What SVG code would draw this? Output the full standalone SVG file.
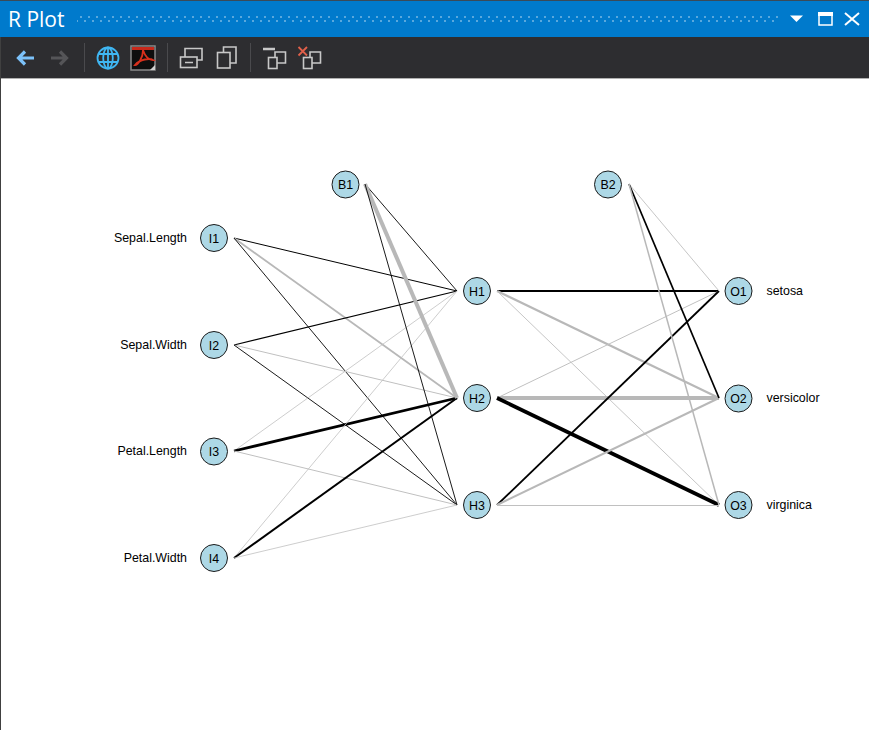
<svg xmlns="http://www.w3.org/2000/svg" width="869" height="730" viewBox="0 0 869 730">
<defs>
<style>
.blk{stroke:#000;fill:none}
.gry{stroke:#b8b8b8;fill:none}
.lgt{stroke:#c0c0c0;fill:none}
.node{fill:#add8e6;stroke:#1a1a1a;stroke-width:1}
.t{font-family:"Liberation Sans",Arial,sans-serif;font-size:12.400px;fill:#000}
.m{text-anchor:middle}
.e{text-anchor:end}
.ic{fill:none;stroke:#c8c8c8;stroke-width:1.600}
</style>
<pattern id="dots" width="8" height="8" patternUnits="userSpaceOnUse"><rect x="0" y="0" width="2" height="2" fill="#59a8dd"/><rect x="4" y="4" width="2" height="2" fill="#59a8dd"/></pattern>
</defs>
<rect width="869" height="730" fill="#fff"/>
<g id="chrome">
<rect x="0" y="0" width="869" height="37" fill="#007acc"/>
<rect x="0" y="0" width="869" height="1" fill="#3a4a58"/>
<rect x="0" y="37" width="869" height="41" fill="#2d2d30"/>
<rect x="0" y="78" width="869" height="1" fill="#b0b0b0"/>
<rect x="0" y="37" width="1" height="693" fill="#404040"/>
<text x="8" y="27" font-family="'Open Sans','Noto Sans',sans-serif" font-size="21" fill="#fff">R Plot</text>
<rect x="77" y="15" width="701" height="9" fill="url(#dots)"/>
<path d="M790 15.500H803L796.500 22Z" fill="#fff"/>
<rect x="819" y="13" width="13" height="12" fill="none" stroke="#fff" stroke-width="1.500"/>
<rect x="818" y="12" width="15" height="4" fill="#fff"/>
<path d="M845 13L859 25M859 13L845 25" stroke="#fff" stroke-width="2" fill="none"/>
<path d="M18 58H34M25 51.500L18.500 58L25 64.500" fill="none" stroke="#7cc2fa" stroke-width="3.200"/>
<path d="M51 58H67M60 51.500L66.500 58L60 64.500" fill="none" stroke="#555558" stroke-width="3.200"/>
<rect x="84" y="43" width="1" height="29" fill="#4a4a4d"/>
<rect x="167" y="43" width="1" height="29" fill="#4a4a4d"/>
<rect x="250" y="43" width="1" height="29" fill="#4a4a4d"/>
<g fill="none" stroke="#3fb6f2" stroke-width="1.800">
<circle cx="108" cy="58" r="10.500"/>
<ellipse cx="108" cy="58" rx="4.800" ry="10.500"/>
<path d="M98 54H118M98 62H118M108 47.500V68.500"/>
</g>
<rect x="131" y="46" width="24" height="24" fill="#0e0e0e" stroke="#8a8a8a" stroke-width="1.500"/>
<rect x="132" y="47" width="22" height="3" fill="#c8281a"/>
<path d="M143 50C143 58 138 65 135 65C140 59 150 58 153 60C148 60 145 56 143 50Z" fill="none" stroke="#d8301c" stroke-width="1.800"/>
<path d="M150 70L155 65V70Z" fill="#d0d0d0"/>
<g class="ic">
<rect x="180.500" y="57" width="16.500" height="10.500"/>
<path d="M185 57V48.500H202V60H197M185 62.500H193"/>
<rect x="217.500" y="52.500" width="12.500" height="15.500"/>
<path d="M223.500 52.500V47H236V63H230"/>
<path d="M263 49H275" stroke-width="2.500"/>
<rect x="268.500" y="57.500" width="8.500" height="11"/>
<path d="M275 57.500V52H285.500V63H277"/>
<rect x="303.500" y="57.500" width="8.500" height="11"/>
<path d="M310 57.500V52H320.500V63H312"/>
</g>
<path d="M298.500 47L307 55.500M307 47L298.500 55.500" stroke="#e0604a" stroke-width="1.800" fill="none"/>
</g>
<g id="connectors">
<line class="blk" stroke-width="1" x1="234" y1="238" x2="457" y2="291"/>
<line class="gry" stroke-width="1.800" x1="234" y1="238" x2="457" y2="398"/>
<line class="blk" stroke-width="0.900" x1="234" y1="238" x2="457" y2="505"/>
<line class="blk" stroke-width="1.100" x1="234" y1="345" x2="457" y2="291"/>
<line class="lgt" stroke-width="1" x1="234" y1="345" x2="457" y2="398"/>
<line class="blk" stroke-width="0.900" x1="234" y1="345" x2="457" y2="505"/>
<line class="lgt" stroke-width="0.800" x1="234" y1="451" x2="457" y2="291"/>
<line class="blk" stroke-width="2.800" x1="234" y1="451" x2="457" y2="398"/>
<line class="lgt" stroke-width="1" x1="234" y1="451" x2="457" y2="505"/>
<line class="lgt" stroke-width="0.800" x1="234" y1="558" x2="457" y2="291"/>
<line class="blk" stroke-width="2" x1="234" y1="558" x2="457" y2="398"/>
<line class="lgt" stroke-width="0.800" x1="234" y1="558" x2="457" y2="505"/>
<line class="blk" stroke-width="0.900" x1="365" y1="184" x2="457" y2="291"/>
<line class="gry" stroke-width="4" x1="365" y1="184" x2="457" y2="398"/>
<line class="blk" stroke-width="0.900" x1="365" y1="184" x2="457" y2="505"/>
<line class="blk" stroke-width="2" x1="497" y1="291" x2="719" y2="291"/>
<line class="gry" stroke-width="2.200" x1="497" y1="291" x2="719" y2="398"/>
<line class="lgt" stroke-width="0.900" x1="497" y1="291" x2="719" y2="505"/>
<line class="lgt" stroke-width="1" x1="497" y1="398" x2="719" y2="291"/>
<line class="gry" stroke-width="4" x1="497" y1="398" x2="719" y2="398"/>
<line class="blk" stroke-width="3.800" x1="497" y1="398" x2="719" y2="505"/>
<line class="blk" stroke-width="1.800" x1="497" y1="505" x2="719" y2="291"/>
<line class="gry" stroke-width="2" x1="497" y1="505" x2="719" y2="398"/>
<line class="lgt" stroke-width="1" x1="497" y1="505.500" x2="719" y2="505.500"/>
<line class="lgt" stroke-width="0.900" x1="629" y1="184" x2="719" y2="291"/>
<line class="blk" stroke-width="1.700" x1="629" y1="184" x2="719" y2="398"/>
<line class="gry" stroke-width="1.500" x1="629" y1="184" x2="719" y2="505"/>
</g>
<g id="I1"><circle class="node" cx="214" cy="238" r="13.500"/><text class="t m" x="214" y="242.500">I1</text><text class="t e" x="187" y="241.500">Sepal.Length</text></g>
<g id="I2"><circle class="node" cx="214" cy="345" r="13.500"/><text class="t m" x="214" y="349.500">I2</text><text class="t e" x="187" y="348.500">Sepal.Width</text></g>
<g id="I3"><circle class="node" cx="214" cy="451.500" r="13.500"/><text class="t m" x="214" y="456">I3</text><text class="t e" x="187" y="455">Petal.Length</text></g>
<g id="I4"><circle class="node" cx="214" cy="558" r="13.500"/><text class="t m" x="214" y="562.500">I4</text><text class="t e" x="187" y="562">Petal.Width</text></g>
<g id="B1"><circle class="node" cx="345.500" cy="184.500" r="13.500"/><text class="t m" x="345.500" y="189">B1</text></g>
<g id="H1"><circle class="node" cx="477" cy="291" r="13.500"/><text class="t m" x="477" y="295.500">H1</text></g>
<g id="H2"><circle class="node" cx="477" cy="398" r="13.500"/><text class="t m" x="477" y="402.500">H2</text></g>
<g id="H3"><circle class="node" cx="477" cy="505" r="13.500"/><text class="t m" x="477" y="509.500">H3</text></g>
<g id="B2"><circle class="node" cx="608" cy="184.500" r="13.500"/><text class="t m" x="608" y="189">B2</text></g>
<g id="O1"><circle class="node" cx="738.500" cy="291" r="13.500"/><text class="t m" x="738.500" y="295.500">O1</text><text class="t" x="766.500" y="295">setosa</text></g>
<g id="O2"><circle class="node" cx="738.500" cy="398.500" r="13.500"/><text class="t m" x="738.500" y="403">O2</text><text class="t" x="766.500" y="402">versicolor</text></g>
<g id="O3"><circle class="node" cx="738.500" cy="505" r="13.500"/><text class="t m" x="738.500" y="509.500">O3</text><text class="t" x="766.500" y="509">virginica</text></g>
</svg>
